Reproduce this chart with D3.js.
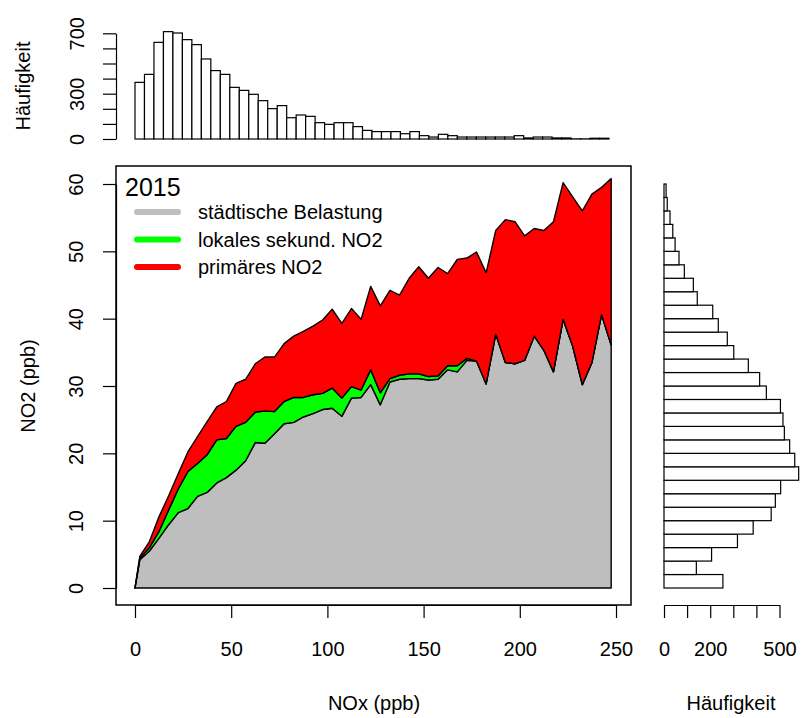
<!DOCTYPE html>
<html>
<head>
<meta charset="utf-8">
<script src="https://cdn.jsdelivr.net/npm/d3@7"></script>
<style>
  body { margin: 0; background: #fff; }
  text { font-family: "Liberation Sans", Arial, sans-serif; }
</style>
</head>
<body>
<svg id="chart" width="801" height="718"></svg>
<script>
// NOx class midpoints (ppb) and the three NO2 contributions (ppb)
const nox = [0, 2.5, 7.5, 12.5, 17.5, 22.5, 27.5, 32.5, 37.5, 42.5, 47.5, 52.5, 57.5, 62.5, 67.5, 72.5,
  77.5, 82.5, 87.5, 92.5, 97.5, 102.5, 107.5, 112.5, 117.5, 122.5, 127.5, 132.5, 137.5, 142.5, 147.5,
  152.5, 157.5, 162.5, 167.5, 172.5, 177.5, 182.5, 187.5, 192.5, 197.5, 202.5, 207.5, 212.5, 217.5,
  222.5, 227.5, 232.5, 237.5, 242.5, 247.5];
const urban = [0, 4.2, 5.5, 7.4, 9.4, 11.2, 11.8, 13.6, 14.2, 15.6, 16.4, 17.5, 18.9, 21.6, 21.5, 22.9,
  24.4, 24.6, 25.4, 25.9, 26.5, 26.7, 25.5, 28.2, 28.3, 30.2, 27.2, 30.6, 31.0, 31.1, 31.1,
  30.9, 31.0, 32.4, 32.1, 33.8, 33.7, 30.3, 37.7, 33.5, 33.3, 33.8, 37.4, 35.3, 32.1,
  39.9, 35.9, 30.2, 33.5, 40.6, 36.1];
const secondary = [0, 0.2, 0.5, 1.0, 2.2, 3.5, 5.5, 4.9, 5.6, 6.4, 5.8, 6.5, 5.7, 4.5, 4.8, 3.3,
  3.3, 3.7, 2.9, 2.8, 2.4, 3.0, 2.7, 1.7, 1.1, 2.2, 1.8, 0.5, 0.6, 0.7, 0.7,
  0.5, 0.5, 0.6, 0.9, 0.3, 0, 0, 0, 0, 0, 0, 0, 0, 0,
  0, 0, 0, 0, 0, 0];
const primary = [0, 0.3, 0.9, 2.2, 2.1, 2.3, 2.9, 4.0, 4.9, 4.9, 5.5, 6.4, 6.4, 7.2, 8.0, 8.1,
  8.6, 9.1, 9.8, 10.2, 10.9, 11.7, 11.1, 11.6, 10.5, 12.4, 12.9, 13.1, 11.9, 14.2, 15.9,
  14.6, 16.1, 13.7, 15.8, 14.9, 16.2, 16.5, 15.4, 21.2, 21.1, 18.5, 16.0, 17.8, 22.3,
  20.3, 22.2, 25.8, 25.0, 18.9, 24.7];

// histogram of NOx (5 ppb classes)
const noxBreaks = [0, 5, 10, 15, 20, 25, 30, 35, 40, 45, 50, 55, 60, 65, 70, 75, 80, 85, 90, 95, 100,
  105, 110, 115, 120, 125, 130, 135, 140, 145, 150, 155, 160, 165, 170, 175, 180, 185, 190, 195, 200,
  205, 210, 215, 220, 225, 230, 235, 240, 245, 250];
const noxCounts = [375, 428, 640, 711, 702, 658, 625, 530, 453, 428, 342, 322, 296, 254, 201, 221, 141,
  159, 150, 108, 97, 108, 108, 82, 57, 49, 49, 49, 35, 49, 22, 13, 31, 22, 13, 13, 13, 13, 13, 13,
  22, 7, 13, 13, 7, 7, 1, 1, 5, 5];

// histogram of NO2 (2 ppb classes)
const no2Breaks = [0, 2, 4, 6, 8, 10, 12, 14, 16, 18, 20, 22, 24, 26, 28, 30, 32, 34, 36, 38, 40,
  42, 44, 46, 48, 50, 52, 54, 56, 58, 60];
const no2Counts = [255, 140, 206, 318, 386, 464, 482, 505, 583, 566, 544, 521, 515, 504, 443, 414,
  365, 302, 274, 235, 211, 144, 127, 88, 65, 48, 38, 26, 14, 9];

const noxTicks = [0, 50, 100, 150, 200, 250];
const no2Ticks = [0, 10, 20, 30, 40, 50, 60];
const topCountTicks = [0, 100, 200, 300, 400, 500, 600, 700];
const topCountLabels = [0, 300, 700];
const rightCountTicks = [0, 100, 200, 300, 400, 500];
const rightCountLabels = [0, 200, 500];

const layerKeys = ["urban", "secondary", "primary"];
const layerColors = ["#bebebe", "#00ff00", "#ff0000"];
const legendLabels = ["städtische Belastung", "lokales sekund. NO2", "primäres NO2"];

const svg = d3.select("#chart");
svg.append("rect").attr("width", 801).attr("height", 718).attr("fill", "#fff");

const box = { left: 116, right: 631, top: 166, bottom: 605 };
const x = d3.scaleLinear().domain([0, 250]).range([135, 616]);
const y = d3.scaleLinear().domain([0, 60]).range([588, 184]);
const topX = d3.scaleLinear().domain([0, 250]).range([135, 609]);
const topY = d3.scaleLinear().domain([0, 700]).range([139, 33.3]);
const rightX = d3.scaleLinear().domain([0, 500]).range([664, 779.5]);

const fontSize = 20;
const tick = 13;

// ---- stacked areas ----
const table = nox.map((d, i) => ({ nox: d, urban: urban[i], secondary: secondary[i], primary: primary[i] }));
const series = d3.stack().keys(layerKeys)(table);

const area = d3
  .area()
  .x((d) => x(d.data.nox))
  .y0((d) => y(d[0]))
  .y1((d) => y(d[1]));

svg
  .append("g")
  .selectAll("path")
  .data(series)
  .join("path")
  .attr("d", area)
  .attr("fill", (d, i) => layerColors[i])
  .attr("stroke", "#000")
  .attr("stroke-width", 1.4)
  .attr("stroke-linejoin", "round");

svg
  .append("rect")
  .attr("x", box.left)
  .attr("y", box.top)
  .attr("width", box.right - box.left)
  .attr("height", box.bottom - box.top)
  .attr("fill", "none")
  .attr("stroke", "#000")
  .attr("stroke-width", 1.5);

// ---- axes of main plot ----
const styleAxis = (g) =>
  g
    .call((g) => g.selectAll("line, path").attr("stroke", "#000").attr("stroke-width", 1.2))
    .call((g) => g.selectAll("text").attr("fill", "#000").style("font-size", fontSize + "px"));

const rotateLabels = (g, dx) =>
  g
    .selectAll(".tick text")
    .attr("x", null)
    .attr("dy", null)
    .attr("text-anchor", "middle")
    .attr("transform", `translate(${dx},0) rotate(-90)`);

svg
  .append("g")
  .attr("transform", `translate(0,${box.bottom})`)
  .call(d3.axisBottom(x).tickValues(noxTicks).tickSize(tick).tickSizeOuter(0).tickPadding(24))
  .call(styleAxis);

svg
  .append("g")
  .attr("transform", `translate(${box.left},0)`)
  .call(d3.axisLeft(y).tickValues(no2Ticks).tickSize(tick).tickSizeOuter(0))
  .call(styleAxis)
  .call((g) => rotateLabels(g, -33));

// ---- top histogram ----
svg
  .append("g")
  .selectAll("rect")
  .data(noxCounts)
  .join("rect")
  .attr("x", (d, i) => topX(noxBreaks[i]))
  .attr("width", (d, i) => topX(noxBreaks[i + 1]) - topX(noxBreaks[i]))
  .attr("y", (d) => topY(d))
  .attr("height", (d) => topY(0) - topY(d))
  .attr("fill", "#fff")
  .attr("stroke", "#000")
  .attr("stroke-width", 1.2);

svg
  .append("g")
  .attr("transform", `translate(${box.left},0)`)
  .call(
    d3
      .axisLeft(topY)
      .tickValues(topCountTicks)
      .tickSize(tick)
      .tickSizeOuter(0)
      .tickFormat((d) => (topCountLabels.includes(d) ? d : ""))
  )
  .call(styleAxis)
  .call((g) => rotateLabels(g, -32));

// ---- right histogram ----
svg
  .append("g")
  .selectAll("rect")
  .data(no2Counts)
  .join("rect")
  .attr("x", rightX(0))
  .attr("width", (d) => rightX(d) - rightX(0))
  .attr("y", (d, i) => y(no2Breaks[i + 1]))
  .attr("height", (d, i) => y(no2Breaks[i]) - y(no2Breaks[i + 1]))
  .attr("fill", "#fff")
  .attr("stroke", "#000")
  .attr("stroke-width", 1.2);

svg
  .append("g")
  .attr("transform", `translate(0,${box.bottom})`)
  .call(
    d3
      .axisBottom(rightX)
      .tickValues(rightCountTicks)
      .tickSize(tick)
      .tickSizeOuter(0)
      .tickPadding(24)
      .tickFormat((d) => (rightCountLabels.includes(d) ? d : ""))
  )
  .call(styleAxis);

// ---- axis titles ----
const title = (tx, ty, txt, rot) =>
  svg
    .append("text")
    .attr("transform", `translate(${tx},${ty})` + (rot ? " rotate(-90)" : ""))
    .attr("text-anchor", "middle")
    .style("font-size", fontSize + "px")
    .text(txt);

title(374, 710, "NOx (ppb)", false);
title(731, 710, "Häufigkeit", false);
title(35, 386, "NO2 (ppb)", true);
title(30, 86, "Häufigkeit", true);

// ---- legend ----
svg
  .append("text")
  .attr("x", 125)
  .attr("y", 196)
  .style("font-size", "25px")
  .text("2015");

const legend = svg
  .append("g")
  .selectAll("g")
  .data(legendLabels)
  .join("g")
  .attr("transform", (d, i) => `translate(0,${212 + i * 27.5})`);

legend
  .append("line")
  .attr("x1", 137)
  .attr("x2", 178)
  .attr("stroke", (d, i) => layerColors[i])
  .attr("stroke-width", 6)
  .attr("stroke-linecap", "round");

legend
  .append("text")
  .attr("x", 198)
  .attr("dy", "0.35em")
  .style("font-size", fontSize + "px")
  .text((d) => d);
</script>
</body>
</html>
